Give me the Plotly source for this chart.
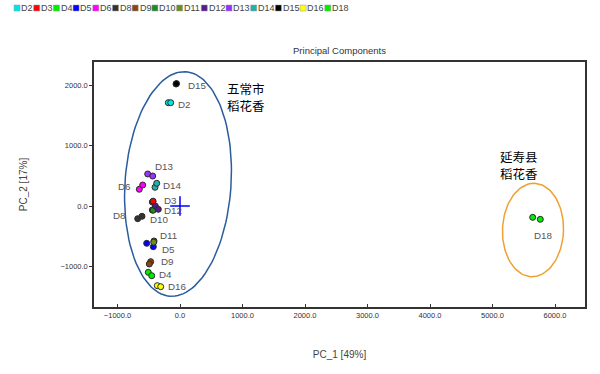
import numpy as np
import plotly.graph_objects as go

samples = ["D2", "D3", "D4", "D5", "D6", "D8", "D9", "D10", "D11", "D12", "D13", "D14", "D15", "D16", "D18"]
colors = ["#00E5E5", "#FF0000", "#00EE00", "#0000FF", "#FF00FF", "#333333", "#8B4513", "#1E8B1E",
          "#6B8E23", "#551A8B", "#9B30FF", "#20B2AA", "#000000", "#FFFF00", "#00EE00"]
pc1_rep1 = [-187, -443, -507, -533, -651, -677, -469, -443, -416, -395, -517, -400, -64, -363, 5643]
pc2_rep1 = [1713, 66, -1100, -619, 277, -210, -923, -66, -580, 0, 531, 310, 2023, -1321, -188]
pc1_rep2 = [-149, -430, -453, -427, -597, -608, -491, -430, -420, -347, -437, -373, -56, -309, 5765]
pc2_rep2 = [1713, 80, -1156, -675, 348, -171, -962, -70, -600, -55, 497, 376, 2030, -1338, -221]
group_wuchang = ["五常市", "稻花香"]
group_yanshou = ["延寿县", "稻花香"]

# page geometry (pixels); body margin removed below, so figure == page
W, H = 600, 374
L, R, T, B = 94, 585, 62, 307
xr = [-1376, 6480]
yr = [-1675, 2388]
ux = (xr[1] - xr[0]) / (R - L)
uy = (yr[1] - yr[0]) / (B - T)

def px2x(p):
    return xr[0] + (p - L) * ux

def py2y(p):
    return yr[0] + (B - p) * uy

fig = go.Figure()

def ellipse(cx, cy, a, b, theta_deg, color):
    th = np.radians(theta_deg)
    t = np.linspace(0, 2 * np.pi, 120)
    dx = a * np.cos(t) * np.cos(th) + b * np.sin(t) * np.sin(th)
    dy = -a * np.cos(t) * np.sin(th) + b * np.sin(t) * np.cos(th)
    fig.add_trace(go.Scatter(x=px2x(cx + dx), y=py2y(cy - dy), mode="lines",
                             line=dict(color=color, width=1.5),
                             hoverinfo="skip", showlegend=False))

ellipse(178, 184, 53, 112.5, 4, "#2A5C9E")
ellipse(533, 230, 30.5, 46.7, 2, "#F0A030")

for i, s in enumerate(samples):
    fig.add_trace(go.Scatter(
        x=[pc1_rep1[i], pc1_rep2[i]], y=[pc2_rep1[i], pc2_rep2[i]], mode="markers",
        marker=dict(size=6, color=colors[i], line=dict(color="#2a2a2a", width=1)),
        name=s, showlegend=False))

fig.add_trace(go.Scatter(x=[0], y=[0], mode="markers",
                         marker=dict(symbol="cross-thin", size=14, line=dict(color="#0000FF", width=1.5)),
                         showlegend=False, hoverinfo="skip"))

label_off = {
    "D15": (10, 1, "left"), "D2": (7.7, 1.3, "left"), "D13": (5.6, -7.3, "left"),
    "D6": (-6, -2.6, "right"), "D14": (5.7, -1.6, "left"), "D3": (9.4, -1.3, "left"),
    "D12": (6.4, 4, "left"), "D8": (-9.4, -3, "right"), "D10": (-4, 10, "left"),
    "D11": (3.7, -5, "left"), "D5": (13.3, 6, "left"), "D9": (8.3, 0.3, "left"),
    "D4": (8.4, 1.7, "left"), "D16": (8.4, 1, "left"), "D18": (10.6, 17.7, "center"),
}
for i, s in enumerate(samples):
    dx, dy, anc = label_off[s]
    fig.add_annotation(x=pc1_rep1[i], y=pc2_rep1[i], text=s, showarrow=False,
                       xanchor=anc, yanchor="middle", xshift=dx, yshift=-dy,
                       font=dict(family="Liberation Sans", size=9.8, color="#555555"))

for lines, (lx, ly0) in ((group_wuchang, (226, 88)), (group_yanshou, (499, 156))):
    for k, line in enumerate(lines):
        fig.add_annotation(x=px2x(lx), y=py2y(ly0 + 17 * k), text=line, showarrow=False,
                           xanchor="left", yanchor="middle", borderpad=0,
                           font=dict(family="Noto Sans CJK SC", size=12.5, color="#000000"))

# custom legend row (page pixels -> paper)
pw, ph = R - L, B - T
xpos = 14.0
for i, s in enumerate(samples):
    fig.add_shape(type="rect", xref="paper", yref="paper",
                  x0=(xpos - L) / pw, x1=(xpos + 6 - L) / pw,
                  y0=(B - 11) / ph, y1=(B - 5) / ph,
                  fillcolor=colors[i], line=dict(color="#999999", width=0.5))
    fig.add_annotation(xref="paper", yref="paper", x=(xpos + 6.3 - L) / pw, y=(B - 8) / ph,
                       text=s, showarrow=False, xanchor="left", yanchor="middle", borderpad=0,
                       font=dict(family="Liberation Sans", size=9, color="#444444"))
    xpos += 9.7 + 5.0 * len(s)

fig.update_layout(
    width=W, height=H,
    margin=dict(l=L, r=W - R, t=T, b=H - B, autoexpand=False),
    paper_bgcolor="white", plot_bgcolor="white",
    showlegend=False,
    title=dict(text="Principal Components", x=(L + R) / 2 / W, xanchor="center",
               y=1 - 50.5 / H, yanchor="middle", automargin=False,
               font=dict(family="Liberation Sans", size=9.5, color="#333333")),
    xaxis=dict(range=xr, showgrid=False, zeroline=False, showline=True, linecolor="#333333",
               linewidth=1.5, mirror=True, ticks="inside", ticklen=3, tickcolor="#333333",
               automargin=False,
               tickvals=[-1000, 0, 1000, 2000, 3000, 4000, 5000, 6000], tickformat=".1f",
               tickfont=dict(family="Liberation Sans", size=7.5, color="#333333"),
               title=dict(text="PC_1 [49%]", standoff=32,
                          font=dict(family="Liberation Sans", size=10, color="#444444"))),
    yaxis=dict(range=yr, showgrid=False, zeroline=False, showline=True, linecolor="#333333",
               linewidth=1.5, mirror=True, ticks="outside", ticklen=3, tickcolor="#333333",
               automargin=False,
               tickvals=[-1000, 0, 1000, 2000], tickformat=".1f",
               tickfont=dict(family="Liberation Sans", size=7.5, color="#333333"),
               title=dict(text="PC_2 [17%]", standoff=31,
                          font=dict(family="Liberation Sans", size=10, color="#444444"))),
)

fig.write_html("out.html", config={"displayModeBar": False},
               post_script="document.body.style.margin='0px';")
